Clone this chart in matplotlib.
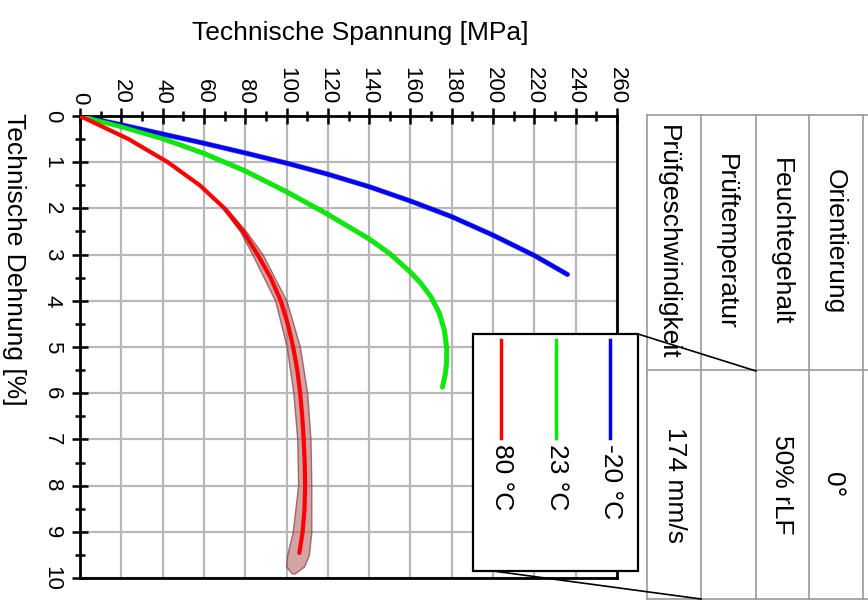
import matplotlib
matplotlib.use('Agg')
import matplotlib.pyplot as plt
from matplotlib.patches import Rectangle

plt.rcParams['font.family'] = ['Liberation Sans', 'DejaVu Sans']

# Spannungs-Dehnungs-Kurven (Dehnung in %, Spannung in MPa)
strain_m20 = [0, 0.19, 0.39, 0.59, 0.80, 1.02, 1.26, 1.53, 1.84, 2.18, 2.58, 3.02, 3.43]
stress_m20 = [0, 20, 40, 60, 80, 100, 120, 140, 160, 180, 200, 220, 236]

strain_23 = [0, 0.23, 0.49, 0.81, 1.19, 1.64, 2.13, 2.66, 2.98, 3.38, 3.62, 3.92, 4.27, 4.65, 5.05, 5.35, 5.6, 5.87]
stress_23 = [0, 20, 40, 60, 80, 100, 120, 140, 150, 160, 165, 170, 174, 176.5, 177.6, 177.5, 176.8, 175.5]

strain_80 = [0, 0.5, 1.0, 1.5, 2.0, 2.5, 3.0, 3.5, 4.0, 4.5, 5.0, 5.5, 6.0, 6.5, 7.0, 7.5, 8.0, 8.5, 9.0, 9.46]
stress_80 = [0, 23.5, 42.5, 58, 70, 79, 86, 92.3, 97.2, 100.6, 103.2, 105.2, 106.6, 107.6, 108.3, 108.8, 109.0, 108.7, 107.8, 106.2]

# Streuband der 80 °C Proben
band_strain = [2.0, 2.5, 3.0, 4.0, 5.0, 6.0, 7.0, 8.0, 9.0, 9.5, 9.75, 9.9]
band_lo = [69.0, 77.5, 83.5, 94.5, 100.1, 103.3, 105.2, 105.6, 103.0, 100.3, 99.8, 102.5]
band_hi = [71.0, 80.5, 88.5, 100.0, 106.5, 110.0, 111.6, 112.0, 112.0, 110.8, 108.5, 104.0]

legend_labels = ['80 °C', '23 °C', '-20 °C']
legend_colors = ['#ff0000', '#00ee00', '#0000ff']

table_headers = ['Prüfgeschwindigkeit', 'Prüftemperatur', 'Feuchtegehalt', 'Orientierung']
table_values = ['174 mm/s', '', '50% rLF', '0°']

W, H = 868, 602
fig = plt.figure(figsize=(W / 100, H / 100), dpi=100)
ax = fig.add_axes([80 / W, 1 - 578 / H, 537 / W, 462 / H], zorder=1)

ax.fill_betweenx(band_strain, band_lo, band_hi, facecolor=(0.72, 0.40, 0.40, 0.6),
                 edgecolor=(0.5, 0.25, 0.25, 0.7), lw=1, zorder=2)
line_kw = dict(solid_joinstyle='round', solid_capstyle='round')
ax.plot(stress_m20, strain_m20, color='#202080', lw=3.8, alpha=0.6, zorder=2, **line_kw)
ax.plot(stress_23, strain_23, color='#309030', lw=3.8, alpha=0.6, zorder=2, **line_kw)
ax.plot(stress_m20, strain_m20, color='#0000ff', lw=3, zorder=3, **line_kw)
ax.plot(stress_23, strain_23, color='#00ee00', lw=3, zorder=3, **line_kw)
ax.plot(stress_80, strain_80, color='#ff0000', lw=3, zorder=3, **line_kw)

ax.set_xlim(0, 260)
ax.set_ylim(10, 0)
ax.set_xticks(range(0, 261, 20))
ax.set_xticks(range(0, 261, 10), minor=True)
ax.set_yticks(range(0, 11))
ax.set_yticks([i + 0.5 for i in range(10)], minor=True)
ax.grid(which='major', color='#b8b8b8', lw=1.6)
ax.set_axisbelow(True)
for s in ax.spines.values():
    s.set_linewidth(2)
ax.tick_params(which='both', direction='inout', top=True, bottom=False, left=True, right=False,
               labeltop=True, labelbottom=False, width=1.8, labelsize=16)
ax.tick_params(which='major', length=11)
ax.tick_params(which='minor', length=7)
ax.tick_params(axis='x', pad=3)
ax.tick_params(axis='y', pad=7)
ax.tick_params(axis='both', labelrotation=-90)
for lbl in ax.get_yticklabels():
    lbl.set_va('center')

fig.text(360 / W, 1 - 33 / H, 'Technische Spannung [MPa]', fontsize=19, ha='center', va='center')
fig.text(14 / W, 1 - 259 / H, 'Technische Dehnung [%]', fontsize=19, rotation=270,
         ha='center', va='center')

# Overlay in Pixelkoordinaten fuer Legende und Tabelle
ov = fig.add_axes([0, 0, 1, 1], zorder=3)
ov.set_xlim(0, W)
ov.set_ylim(H, 0)
ov.axis('off')

# Tabelle
tcol = '#9a9a9a'
for yy in [115, 370, 599]:
    ov.plot([647, 868], [yy, yy], color=tcol, lw=1.2)
for xx in [647, 701, 756, 809, 863]:
    ov.plot([xx, xx], [115, 599], color=tcol, lw=1.2)
head_x = [668, 726, 781, 835]
val_x = [675, 728, 782, 833]
for i in range(len(table_headers)):
    ov.text(head_x[i], 242, table_headers[i], fontsize=19, rotation=270, ha='center', va='center')
    ov.text(val_x[i], 485, table_values[i], fontsize=19, rotation=270, ha='center', va='center')

# Legende
ov.add_patch(Rectangle((473, 334), 165, 237, facecolor='white', edgecolor='black', lw=1.6))
leg_x = [501, 556, 610]
for i in range(len(legend_labels)):
    ov.plot([leg_x[i], leg_x[i]], [340, 438], color=legend_colors[i], lw=2.5)
    ov.text(leg_x[i] + 1, 444, legend_labels[i], fontsize=19, rotation=270, ha='center', va='top')

ov.plot([638, 756], [334, 371], color='black', lw=1.2)
ov.plot([493, 701], [571, 599], color='black', lw=1.2)

fig.savefig('out.png', dpi=100)
